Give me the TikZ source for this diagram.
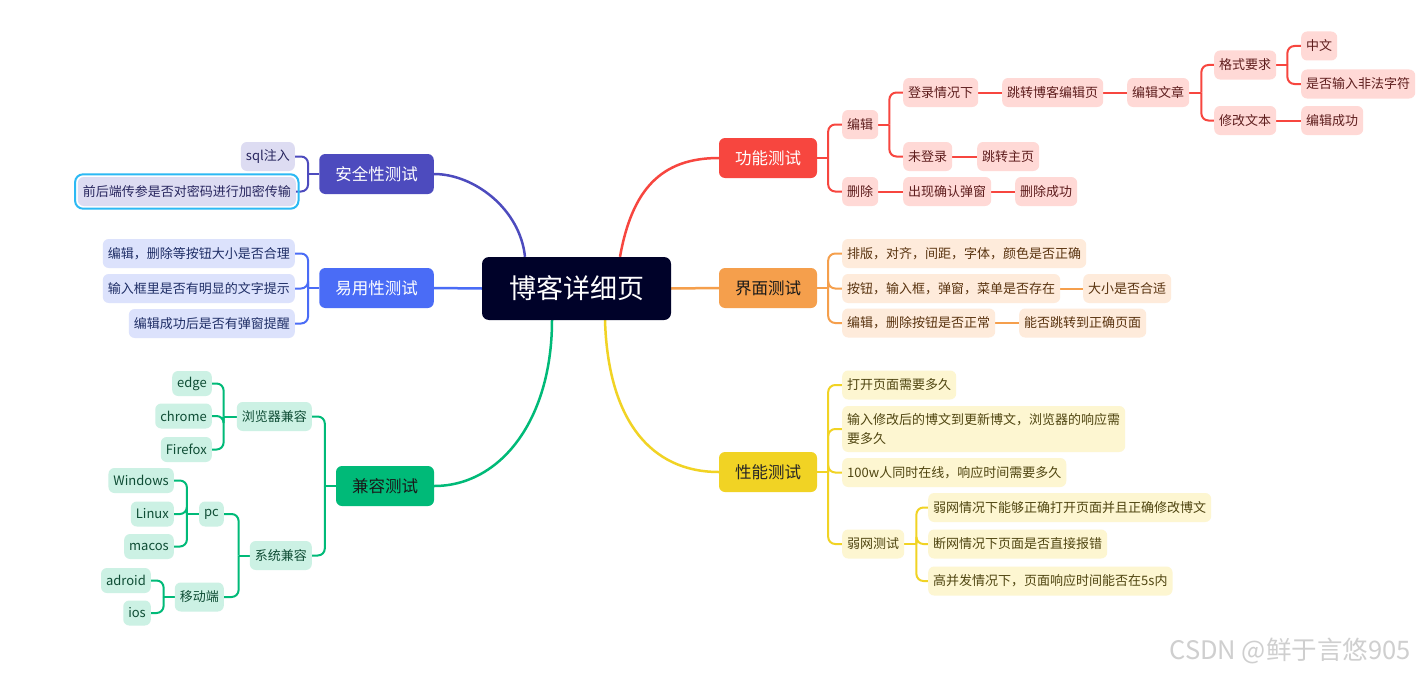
\documentclass[tikz,border=0pt]{standalone}
\usepackage{fontspec}
\setmainfont{Noto Sans CJK SC}
\usetikzlibrary{positioning, fit, backgrounds}

\definecolor{navy}{HTML}{000229}
\definecolor{fred}{HTML}{F7463F}
\definecolor{fredbg}{HTML}{FFD9D6}
\definecolor{fredink}{HTML}{5E1D1D}
\definecolor{forange}{HTML}{F59F4C}
\definecolor{forangebg}{HTML}{FEEBDB}
\definecolor{forangeink}{HTML}{5A3410}
\definecolor{fyellow}{HTML}{F1D324}
\definecolor{fyellowbg}{HTML}{FDF6D1}
\definecolor{fyellowink}{HTML}{4F4510}
\definecolor{fpurple}{HTML}{4D4BBE}
\definecolor{fpurplebg}{HTML}{DDDCF2}
\definecolor{fpurpleink}{HTML}{27255E}
\definecolor{fblue}{HTML}{4A6CF6}
\definecolor{fbluebg}{HTML}{DCE2FC}
\definecolor{fblueink}{HTML}{1F2E66}
\definecolor{fgreen}{HTML}{00BA78}
\definecolor{fgreenbg}{HTML}{CCF1E4}
\definecolor{fgreenink}{HTML}{0F4D35}
\definecolor{hlcyan}{HTML}{2CB9F4}
\definecolor{stampgray}{HTML}{CFCFCF}

\begin{document}
\begin{tikzpicture}[
		x=1pt, y=-1pt,
		topic/.style={fill=navy, text=white, rounded corners=7pt, minimum height=63pt, inner xsep=27pt, font=\fontsize{27}{30}\selectfont},
		branch/.style={fill=#1, rounded corners=6pt, minimum height=40pt, minimum width=98pt, inner xsep=16pt, font=\fontsize{16.5}{20}\selectfont},
		leaf/.style={fill=#1bg, text=#1ink, rounded corners=6pt, minimum height=29pt, inner xsep=5pt, font=\fontsize{13}{19}\selectfont},
		rleaf/.style={leaf=#1, anchor=west},
		lleaf/.style={leaf=#1, anchor=east},
		trunk/.style={draw=#1, line width=2.5pt},
		tie/.style={draw=#1, line width=2pt, rounded corners=7pt},
		hilite/.style={draw=hlcyan, line width=2pt, rounded corners=8pt, inner sep=2.5pt},
		stamp/.style={text=stampgray, font=\fontsize{25.5}{28}\selectfont}
	]
	\useasboundingbox (0,0) rectangle (1424,677);

	% Nodes
	\node[topic] (page) at (576.5,288.5) {博客详细页};
	\node[branch=fred, text=white] (func) at (768,158) {功能测试};
	\node[branch=forange, text=black!90] (ui) at (768,288) {界面测试};
	\node[branch=fyellow, text=black!85] (perf) at (768,472) {性能测试};
	\node[branch=fpurple, text=white] (safe) at (376.5,174) {安全性测试};
	\node[branch=fblue, text=white] (easy) at (376.5,288) {易用性测试};
	\node[branch=fgreen, text=black!90] (compat) at (385,486) {兼容测试};

	% function tests
	\node[rleaf=fred] (edit) at (842,124.5) {编辑};
	\node[rleaf=fred] (del) at (842,191.5) {删除};
	\node[rleaf=fred] (login) at (903,92.5) {登录情况下};
	\node[rleaf=fred] (nologin) at (903,156.5) {未登录};
	\node[rleaf=fred] (confirm) at (903,191.5) {出现确认弹窗};
	\node[rleaf=fred] (editpage) at (1002,92.5) {跳转博客编辑页};
	\node[rleaf=fred] (home) at (977,156.5) {跳转主页};
	\node[rleaf=fred] (delok) at (1015,191.5) {删除成功};
	\node[rleaf=fred] (article) at (1127,92.5) {编辑文章};
	\node[rleaf=fred] (format) at (1214,65) {格式要求};
	\node[rleaf=fred] (modify) at (1214,120.5) {修改文本};
	\node[rleaf=fred] (zh) at (1301,46) {中文};
	\node[rleaf=fred] (illegal) at (1301,84) {是否输入非法字符};
	\node[rleaf=fred] (editok) at (1301,120.5) {编辑成功};

	% interface tests
	\node[rleaf=forange] (layout) at (842,253.5) {排版，对齐，间距，字体，颜色是否正确};
	\node[rleaf=forange] (widgets) at (842,288.5) {按钮，输入框，弹窗，菜单是否存在};
	\node[rleaf=forange] (editbtn) at (842,323) {编辑，删除按钮是否正常};
	\node[rleaf=forange] (size) at (1083,288.5) {大小是否合适};
	\node[rleaf=forange] (jump) at (1019,323) {能否跳转到正确页面};

	% performance tests
	\node[rleaf=fyellow] (open) at (842,385) {打开页面需要多久};
	\node[rleaf=fyellow, align=left, minimum height=46pt] (reply) at (842,429) {输入修改后的博文到更新博文，浏览器的响应需\\要多久};
	\node[rleaf=fyellow] (online) at (842,472.5) {100w人同时在线，响应时间需要多久};
	\node[rleaf=fyellow] (weak) at (842,544) {弱网测试};
	\node[rleaf=fyellow] (weakopen) at (928,507.5) {弱网情况下能够正确打开页面并且正确修改博文};
	\node[rleaf=fyellow] (offline) at (928,544) {断网情况下页面是否直接报错};
	\node[rleaf=fyellow] (burst) at (928,581) {高并发情况下，页面响应时间能否在5s内};

	% security tests
	\node[lleaf=fpurple] (sql) at (295,156.5) {sql注入};
	\node[lleaf=fpurple] (pwd) at (296,191.5) {前后端传参是否对密码进行加密传输};
	\node[hilite, fit=(pwd)] (pwdring) {};

	% usability tests
	\node[lleaf=fblue] (btnsize) at (295,253.5) {编辑，删除等按钮大小是否合理};
	\node[lleaf=fblue] (hint) at (295,288.5) {输入框里是否有明显的文字提示};
	\node[lleaf=fblue] (popup) at (295,323.5) {编辑成功后是否有弹窗提醒};

	% compatibility tests
	\node[lleaf=fgreen] (browser) at (312,416.5) {浏览器兼容};
	\node[lleaf=fgreen] (system) at (312,555.5) {系统兼容};
	\node[lleaf=fgreen, minimum height=25pt] (edge) at (212,383.5) {edge};
	\node[lleaf=fgreen, minimum height=25pt] (chrome) at (212,416) {chrome};
	\node[lleaf=fgreen, minimum height=25pt] (firefox) at (212,449.5) {Firefox};
	\node[lleaf=fgreen, minimum height=25pt] (pc) at (224,514) {pc};
	\node[lleaf=fgreen] (mobile) at (224,597) {移动端};
	\node[lleaf=fgreen, minimum height=25pt] (windows) at (174,480.5) {Windows};
	\node[lleaf=fgreen, minimum height=25pt] (linux) at (174,514) {Linux};
	\node[lleaf=fgreen, minimum height=25pt] (macos) at (174,546.5) {macos};
	\node[lleaf=fgreen, minimum height=25pt] (adroid) at (151,580.5) {adroid};
	\node[lleaf=fgreen, minimum height=25pt] (ios) at (151,613) {ios};

	\node[stamp] (csdn) at (1290,651) {CSDN @鲜于言悠905};

	% Connections
	\begin{scope}[on background layer]
		\fill[white] (0,0) rectangle (1424,677);

		\draw[trunk=fred] ([xshift=43.5pt]page.north) .. controls +(12,-67) and +(-58,0) .. (func.west);
		\draw[trunk=forange] (page.east) -- (ui.west);
		\draw[trunk=fyellow] ([xshift=28.5pt]page.south) .. controls +(3,100) and +(-68,0) .. (perf.west);
		\draw[trunk=fpurple] ([xshift=-51.5pt]page.north) .. controls +(-5,-48) and +(40,0) .. (safe.east);
		\draw[trunk=fblue] (page.west) -- (easy.east);
		\draw[trunk=fgreen] ([xshift=-24.5pt]page.south) .. controls +(0,100) and +(66,0) .. (compat.east);

		% right side
		\draw[tie=fred] (func.east) -- ++(11,0);
		\foreach \kid in {edit, del}
			\draw[tie=fred] (func.east) ++(11,0) |- (\kid.west);
		\draw[tie=fred] (edit.east) -- ++(11,0);
		\foreach \kid in {login, nologin}
			\draw[tie=fred] (edit.east) ++(11,0) |- (\kid.west);
		\draw[tie=fred] (article.east) -- ++(12,0);
		\foreach \kid in {format, modify}
			\draw[tie=fred] (article.east) ++(12,0) |- (\kid.west);
		\draw[tie=fred] (format.east) -- ++(11,0);
		\foreach \kid in {zh, illegal}
			\draw[tie=fred] (format.east) ++(11,0) |- (\kid.west);
		\draw[tie=fred] (login) -- (editpage);
		\draw[tie=fred] (editpage) -- (article);
		\draw[tie=fred] (nologin) -- (home);
		\draw[tie=fred] (del) -- (confirm);
		\draw[tie=fred] (confirm) -- (delok);
		\draw[tie=fred] (modify) -- (editok);

		\draw[tie=forange] (ui.east) -- ++(11,0);
		\foreach \kid in {layout, widgets, editbtn}
			\draw[tie=forange] (ui.east) ++(11,0) |- (\kid.west);
		\draw[tie=forange] (widgets) -- (size);
		\draw[tie=forange] (editbtn) -- (jump);

		\draw[tie=fyellow] (perf.east) -- ++(11,0);
		\foreach \kid in {open, reply, online, weak}
			\draw[tie=fyellow] (perf.east) ++(11,0) |- (\kid.west);
		\draw[tie=fyellow] (weak.east) -- ++(12,0);
		\foreach \kid in {weakopen, offline, burst}
			\draw[tie=fyellow] (weak.east) ++(12,0) |- (\kid.west);

		% left side
		\draw[tie=fpurple] (safe.west) -- ++(-11,0);
		\foreach \kid in {sql, pwd}
			\draw[tie=fpurple] (safe.west) ++(-11,0) |- (\kid.east);

		\draw[tie=fblue] (easy.west) -- ++(-11,0);
		\foreach \kid in {btnsize, hint, popup}
			\draw[tie=fblue] (easy.west) ++(-11,0) |- (\kid.east);

		\draw[tie=fgreen] (compat.west) -- ++(-11,0);
		\foreach \kid in {browser, system}
			\draw[tie=fgreen] (compat.west) ++(-11,0) |- (\kid.east);
		\draw[tie=fgreen] (browser.west) -- ++(-13,0);
		\foreach \kid in {edge, chrome, firefox}
			\draw[tie=fgreen] (browser.west) ++(-13,0) |- (\kid.east);
		\draw[tie=fgreen] (system.west) -- ++(-11,0);
		\foreach \kid in {pc, mobile}
			\draw[tie=fgreen] (system.west) ++(-11,0) |- (\kid.east);
		\draw[tie=fgreen] (pc.west) -- ++(-12,0);
		\foreach \kid in {windows, linux, macos}
			\draw[tie=fgreen] (pc.west) ++(-12,0) |- (\kid.east);
		\draw[tie=fgreen] (mobile.west) -- ++(-11,0);
		\foreach \kid in {adroid, ios}
			\draw[tie=fgreen] (mobile.west) ++(-11,0) |- (\kid.east);
	\end{scope}

\end{tikzpicture}
\end{document}
